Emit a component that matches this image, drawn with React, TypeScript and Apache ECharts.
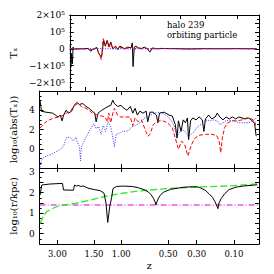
import React, { useEffect, useRef } from "react";
import * as echarts from "echarts";

// redshift tick marks on the cosmic-time axis
const Z_TICKS = [3.0, 1.5, 1.0, 0.5, 0.3, 0.1];
const Z_LABELS = ["3.00", "1.50", "1.00", "0.50", "0.30", "0.10"];
const T_MIN = 1.1;
const T_MAX = 13.6;

// top panel: T_x  [time (Gyr), value]
const topBlack: [number, number][] = [
  [1.13, 0.2e5], [1.17, -1.1e5], [1.22, -0.3e5], [1.27, -0.9e5], [1.32, 0.1e5], [1.4, -0.02e5],
  [1.95, 0], [2.33, 0.02e5], [2.49, -0.15e5], [2.6, -0.05e5], [2.76, 0], [2.87, 0.1e5],
  [3.03, -0.3e5], [3.19, -0.5e5], [3.34, 0.5e5], [3.45, 0.15e5], [3.57, 0.5e5], [3.7, 0.1e5],
  [3.81, 0.4e5], [3.94, 0], [4.12, 0.15e5], [4.28, -0.05e5], [4.39, 0.15e5], [4.55, 0.1e5],
  [4.71, 0], [4.93, 0.1e5], [5.15, 0.05e5], [5.23, 0.35e5], [5.28, -1.05e5], [5.36, 0.1e5],
  [5.47, 0.15e5], [5.63, 0.05e5], [5.85, 0], [6.01, 0.1e5], [6.23, 0], [6.39, -0.2e5],
  [6.56, 0.05e5], [6.83, 0], [7.1, 0.02e5], [8.0, 0.01e5], [9.0, -0.01e5], [10.0, 0.01e5],
  [11.0, 0], [12.0, 0.01e5], [13.44, 0],
];
const topRed: [number, number][] = [
  [1.12, 0], [1.3, 0.02e5], [2.0, 0], [2.5, -0.05e5], [2.87, 0.05e5], [3.03, -0.3e5],
  [3.19, -0.65e5], [3.3, 0.6e5], [3.45, 0.2e5], [3.57, 0.45e5], [3.7, 0.1e5], [3.81, 0.35e5],
  [3.94, 0], [4.12, 0.1e5], [4.39, 0.1e5], [4.71, 0], [5.0, 0.05e5], [5.23, 0.1e5],
  [5.28, -0.1e5], [5.5, 0.05e5], [6.0, 0.02e5], [6.5, 0], [7.5, 0.01e5], [9.0, -0.01e5],
  [11.0, 0.01e5], [13.44, 0],
];
const topBlue: [number, number][] = [
  [1.12, 0], [3.0, 0.005e5], [5.0, -0.005e5], [7.0, 0.005e5], [10.0, 0], [13.44, 0],
];

// middle panel: log10(abs(T_x))
const midBlack: [number, number][] = [
  [1.12, 5.05], [1.17, 4.4], [1.2, 3.9], [1.46, 3.8], [1.84, 3.7], [2.0, 3.5], [2.15, 3.3],
  [2.27, 3.5], [2.38, 2.9], [2.47, 3.5], [2.61, 4.0], [2.74, 3.7], [2.92, 3.9], [3.1, 4.6],
  [3.23, 4.8], [3.37, 4.6], [3.56, 4.7], [3.74, 4.4], [3.92, 4.2], [4.1, 3.9], [4.24, 3.7],
  [4.32, 2.8], [4.43, 3.7], [4.64, 4.0], [4.82, 4.2], [5.0, 4.4], [5.15, 4.5], [5.27, 5.05],
  [5.36, 4.7], [5.54, 4.4], [5.73, 4.5], [5.91, 4.2], [6.08, 4.0], [6.27, 4.4], [6.41, 3.7],
  [6.54, 4.2], [6.67, 3.5], [6.81, 3.9], [6.99, 3.7], [7.17, 3.9], [7.26, 2.8], [7.39, 3.8],
  [7.57, 3.8], [7.75, 3.5], [7.84, 2.7], [7.93, 3.7], [8.2, 3.8], [8.47, 3.5], [8.66, 3.4],
  [8.83, 2.5], [8.93, 1.1], [9.01, 2.9], [9.16, 1.8], [9.28, 3.0], [9.41, 2.7], [9.52, 3.2],
  [9.59, 0.95], [9.7, 2.9], [9.83, 3.2], [10.01, 3.0], [10.19, 3.3], [10.37, 3.0], [10.46, 1.8],
  [10.55, 3.1], [10.73, 3.5], [10.91, 3.1], [11.1, 3.3], [11.22, 3.7], [11.37, 3.3], [11.55, 3.0],
  [11.72, 3.3], [11.91, 3.1], [12.09, 3.3], [12.27, 3.1], [12.45, 3.3], [12.63, 3.2],
  [12.81, 3.1], [12.99, 3.2], [13.17, 3.0], [13.35, 2.6], [13.44, 1.3],
];
const midRed: [number, number][] = [
  [1.12, 2.15], [1.39, 2.7], [1.66, 3.0], [1.93, 3.2], [2.2, 3.3], [2.47, 3.5], [2.65, 3.7],
  [2.83, 3.9], [3.1, 4.5], [3.29, 4.7], [3.47, 4.4], [3.74, 4.2], [3.92, 4.0], [4.1, 3.7],
  [4.37, 3.5], [4.64, 3.4], [4.82, 3.3], [4.97, 2.8], [5.04, 3.7], [5.15, 2.7], [5.27, 3.7],
  [5.36, 4.2], [5.54, 3.5], [5.73, 3.3], [6.0, 3.3], [6.27, 3.3], [6.41, 2.4], [6.54, 3.2],
  [6.72, 2.8], [6.9, 3.0], [7.08, 2.15], [7.26, 1.3], [7.39, 1.5], [7.45, 1.8], [7.57, 2.5],
  [7.84, 2.9], [8.11, 2.9], [8.38, 2.7], [8.66, 2.2], [8.83, 1.1], [9.01, -0.05], [9.19, 0.8],
  [9.37, 0.4], [9.55, -0.75], [9.74, 0.35], [9.92, 1.05], [10.19, 1.4], [10.55, 1.5],
  [10.91, 1.5], [11.18, 1.4], [11.33, 0.8], [11.42, -0.4], [11.51, 1.1], [11.64, 2.2],
  [11.82, 2.7], [12.09, 2.9], [12.36, 2.9], [12.63, 3.0], [12.9, 3.2], [13.17, 3.1],
  [13.35, 2.9], [13.44, 2.2],
];
const midBlue: [number, number][] = [
  [1.12, -1.95], [1.2, -1.25], [1.3, -0.95], [1.48, -0.75], [1.75, -0.6], [1.93, -0.4],
  [2.11, -0.25], [2.29, -0.05], [2.47, 0.3], [2.56, 0.8], [2.65, 1.2], [2.83, 1.2], [3.02, 0.8],
  [3.16, 1.2], [3.29, 0.5], [3.37, 0.2], [3.43, -1.25], [3.48, 0.2], [3.64, 0.8], [3.83, 1.5],
  [4.01, 2.1], [4.19, 2.6], [4.32, 2.1], [4.46, 2.3], [4.6, 1.5], [4.73, 2.4], [4.86, 1.8],
  [5.0, 2.8], [5.18, 2.1], [5.36, 0.2], [5.46, 1.5], [5.63, 1.6], [5.81, 1.8], [6.0, 1.8],
  [6.18, 1.9], [6.36, 2.3], [6.54, 2.4], [6.72, 2.6], [6.9, 2.8], [7.08, 3.2], [7.26, 3.3],
  [7.39, 3.5], [7.66, 3.7], [7.93, 3.8], [8.2, 3.6], [8.38, 3.4], [8.56, 3.0], [8.74, 2.5],
  [8.93, 1.3], [9.11, 1.8], [9.23, 2.0], [9.38, 1.8], [9.55, 1.3], [9.74, 1.5], [9.92, 1.8],
  [10.1, 2.3], [10.28, 2.5], [10.46, 2.8], [10.64, 3.0], [10.82, 2.9], [11.0, 3.0],
  [11.22, 2.9], [11.37, 2.5], [11.55, 2.7], [11.72, 2.9], [11.94, 2.95], [12.18, 2.9],
  [12.45, 2.7], [12.72, 2.7], [12.99, 2.7], [13.27, 2.9], [13.44, 3.2],
];

// bottom panel: log10(r/kpc)
const botBlack: [number, number][] = [
  [1.13, 1.89], [1.22, 2.37], [1.3, 2.38], [1.68, 2.42], [2.4, 2.45], [2.46, 2.13],
  [3.03, 2.12], [3.09, 2.37], [3.2, 2.32], [3.3, 2.35], [3.45, 2.3], [3.57, 2.33], [3.7, 2.28],
  [3.85, 2.22], [4.21, 2.15], [4.55, 2.1], [4.77, 1.97], [4.88, 1.5], [4.98, 0.55], [5.09, 1.3],
  [5.2, 1.75], [5.28, 2.2], [5.47, 2.3], [5.84, 2.32], [6.38, 2.3], [6.72, 2.24], [7.1, 2.13],
  [7.3, 2.03], [7.46, 1.89], [7.58, 1.73], [7.68, 1.55], [7.73, 1.4], [7.78, 1.55], [7.88, 1.75],
  [8.02, 1.92], [8.18, 2.03], [8.55, 2.16], [9.27, 2.26], [9.81, 2.29], [10.17, 2.27],
  [10.53, 2.12], [10.75, 1.95], [10.95, 1.77], [11.1, 1.55], [11.2, 1.35], [11.26, 1.22],
  [11.32, 1.5], [11.45, 1.72], [11.65, 1.95], [11.9, 2.15], [12.3, 2.27], [12.7, 2.32],
  [13.34, 2.37], [13.5, 2.38],
];
const botGreen: [number, number][] = [
  [1.13, 0.5], [1.31, 0.84], [1.5, 1.08], [1.86, 1.24], [2.22, 1.36], [3.12, 1.48],
  [4.02, 1.64], [4.93, 1.84], [5.83, 1.97], [6.74, 2.08], [8.34, 2.2], [10.17, 2.28],
  [11.98, 2.33], [13.5, 2.43],
];
const R_REF = 1.4;

function cosmicTime(z: number): number {
  const hubbleTime = 13.97;
  const oL = 0.7;
  const oM = 0.3;
  return ((2 * hubbleTime) / (3 * Math.sqrt(oL))) * Math.asinh(Math.sqrt(oL / oM) * Math.pow(1 + z, -1.5));
}

const FONT = "DejaVu Serif";

export default function App() {
  const ref = useRef<HTMLDivElement>(null);
  useEffect(() => {
    if (!ref.current) return;
    const chart = echarts.init(ref.current, undefined, { renderer: "svg" });
    const tickTimes = Z_TICKS.map(cosmicTime);
    const zLabel = (v: number) => {
      let best = 0;
      tickTimes.forEach((t, i) => {
        if (Math.abs(t - v) < Math.abs(tickTimes[best] - v)) best = i;
      });
      return Z_LABELS[best];
    };
    const line = { lineStyle: { color: "#000", width: 1 } };
    const xAx = (grid: number, pos: string, labels: boolean): any => ({
      type: "value",
      gridIndex: grid,
      position: pos,
      min: T_MIN,
      max: T_MAX,
      axisLine: { show: true, onZero: false, ...line },
      axisTick: { show: true, inside: true, length: 4, customValues: tickTimes, ...line },
      axisLabel: {
        show: labels,
        customValues: tickTimes,
        formatter: (v: number) => zLabel(v),
        margin: 5,
        fontSize: 8.5,
        fontFamily: FONT,
        color: "#000",
      },
      splitLine: { show: false },
      ...(labels
        ? {
            name: "z",
            nameLocation: "middle",
            nameGap: 16,
            nameTextStyle: { fontFamily: FONT, fontSize: 9.5, color: "#000" },
          }
        : {}),
    });
    const yAx = (
      grid: number,
      pos: string,
      min: number,
      max: number,
      interval: number,
      split: number,
      fmt: ((v: number) => string) | null,
      name?: string,
      gap?: number
    ): any => ({
      type: "value",
      gridIndex: grid,
      position: pos,
      min,
      max,
      interval,
      axisLine: { show: true, onZero: false, ...line },
      axisTick: { show: true, inside: true, length: 4, ...line },
      minorTick: { show: true, splitNumber: split, length: 2, ...line },
      axisLabel: {
        show: !!fmt,
        formatter: fmt || undefined,
        margin: 5,
        fontSize: 9,
        fontFamily: FONT,
        color: "#000",
        showMinLabel: true,
        showMaxLabel: true,
      },
      splitLine: { show: false },
      ...(name
        ? {
            name,
            nameLocation: "middle",
            nameRotate: 90,
            nameGap: gap,
            nameTextStyle: { fontFamily: FONT, fontSize: 10, color: "#000" },
          }
        : {}),
    });
    const topFmt = (v: number) => {
      const m: Record<string, string> = {
        "200000": "2×10⁵",
        "100000": "10⁵",
        "0": "0",
        "-100000": "−1×10⁵",
        "-200000": "−2×10⁵",
      };
      return m[String(Math.round(v))] ?? "";
    };
    const midFmt = (v: number) => (v >= 0 && v <= 4 ? String(v) : "");
    const botFmt = (v: number) => (Number.isInteger(v) && v >= 0 ? String(v) : "");

    const s = (data: [number, number][], xi: number, yi: number, color: string, type: any, width = 1): any => ({
      type: "line",
      data,
      xAxisIndex: xi,
      yAxisIndex: yi,
      showSymbol: false,
      symbol: "none",
      lineStyle: { color, width, type },
      silent: true,
    });

    chart.setOption({
      animation: false,
      backgroundColor: "#fff",
      grid: [
        { left: 30, right: 15, top: 15, height: 76 },
        { left: 30, right: 15, top: 91, height: 77 },
        { left: 30, right: 15, top: 168, height: 76 },
      ],
      xAxis: [
        xAx(0, "bottom", false),
        xAx(0, "top", false),
        xAx(1, "bottom", false),
        xAx(1, "top", false),
        xAx(2, "bottom", true),
        xAx(2, "top", false),
      ],
      yAxis: [
        yAx(0, "left", -2.5e5, 2e5, 0.5e5, 2, topFmt, "Tₓ", 22),
        yAx(0, "right", -2.5e5, 2e5, 0.5e5, 2, null),
        yAx(1, "left", -2, 6, 2, 4, midFmt, "log₁₀(abs(Tₓ))", 12),
        yAx(1, "right", -2, 6, 2, 4, null),
        yAx(2, "left", -0.5, 3.2, 0.5, 2, botFmt, "log₁₀(r/kpc)", 12),
        yAx(2, "right", -0.5, 3.2, 0.5, 2, null),
      ],
      series: [
        s(topBlack, 0, 0, "#000", "solid"),
        s(topRed, 0, 0, "#ff0000", [4, 2]),
        s(topBlue, 0, 0, "#3030ff", [1, 1.5]),
        s(midBlack, 2, 2, "#000", "solid"),
        s(midRed, 2, 2, "#ff0000", [4, 2]),
        s(midBlue, 2, 2, "#3030ff", [1, 1.5]),
        s(
          [
            [T_MIN, R_REF],
            [T_MAX, R_REF],
          ],
          4,
          4,
          "#e000e0",
          [6, 2, 1, 2]
        ),
        s(botGreen, 4, 4, "#22ee22", [7, 3], 1.3),
        s(botBlack, 4, 4, "#000", "solid"),
      ],
      graphic: [
        {
          type: "text",
          left: 167,
          top: 20,
          style: {
            text: "halo 239\norbiting particle",
            fontFamily: FONT,
            fontSize: 8.5,
            lineHeight: 10,
            fill: "#000",
          },
        },
      ],
    });
    return () => chart.dispose();
  }, []);
  return <div ref={ref} style={{ position: "fixed", left: 0, top: 0, width: 274, height: 274 }} />;
}
